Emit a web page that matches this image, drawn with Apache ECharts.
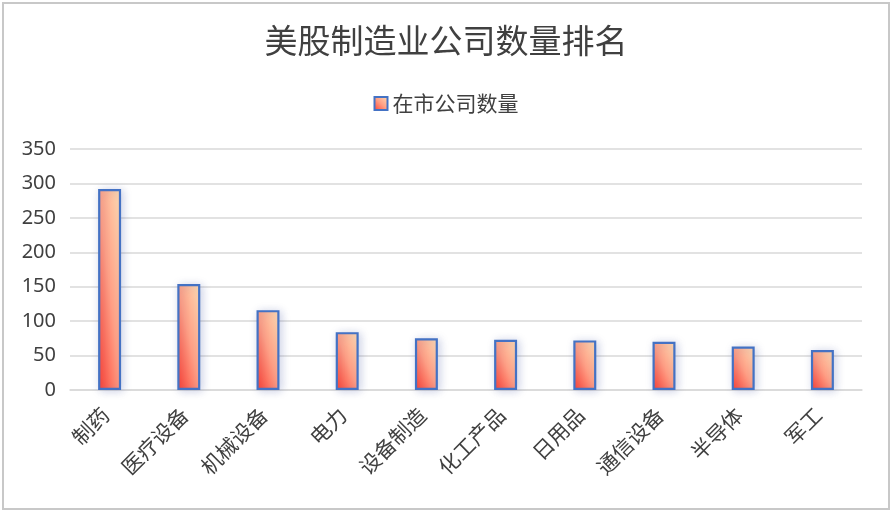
<!DOCTYPE html>
<html><head><meta charset="utf-8">
<script src="https://cdn.jsdelivr.net/npm/echarts@6/dist/echarts.min.js"></script>
<style>
html,body{margin:0;padding:0;background:#fff;}
#c{position:absolute;left:2px;top:2px;width:884px;height:504px;border:2px solid #c8c8c8;background:#fff;}
</style></head>
<body><div id="c"></div>
<script>
var categories = ['制药','医疗设备','机械设备','电力','设备制造','化工产品','日用品','通信设备','半导体','军工'];
var values = [292,154,116,84,75,73,72,70,63,58];
var seriesName = '在市公司数量';
var titleText = '美股制造业公司数量排名';

var chart = echarts.init(document.getElementById('c'));
var stops = [
  {offset:0,color:'#ff3b2e'},
  {offset:0.5,color:'#ff9f85'},
  {offset:1,color:'#ffe0b6'}
];
var baseGrad = new echarts.graphic.LinearGradient(0,1,1,0,stops);
var opt = {
  animation:false,
  title:{text:titleText,left:'center',top:15,textStyle:{fontFamily:'Noto Sans CJK SC',fontSize:33,fontWeight:'normal',color:'#404040'}},
  legend:{top:84,left:'center',itemWidth:13,itemHeight:13,itemGap:7,
    textStyle:{fontFamily:'Noto Sans CJK SC',fontSize:21,color:'#404040'},
    data:[{name:seriesName,icon:'rect'}]},
  grid:{left:66,right:26,top:145,bottom:118},
  xAxis:{type:'category',data:categories,
    axisLine:{lineStyle:{color:'#d9d9d9',width:1.5}},axisTick:{show:false},
    axisLabel:{rotate:45,interval:0,margin:17,padding:[0,6,0,0],fontFamily:'Noto Sans CJK SC',fontSize:21,color:'#404040'}},
  yAxis:{type:'value',min:0,max:350,interval:50,
    axisLine:{show:false},axisTick:{show:false},
    splitLine:{lineStyle:{color:'#d9d9d9',width:1.5}},
    axisLabel:{margin:14,fontFamily:'Noto Sans',fontSize:20,color:'#404040'}},
  series:[{name:seriesName,type:'bar',data:values,barWidth:'29%',
    itemStyle:{color:baseGrad,borderColor:'#4472c4',borderWidth:2.2,
      shadowColor:'rgba(68,84,160,0.25)',shadowBlur:8,shadowOffsetX:2,shadowOffsetY:1}}]
};
chart.setOption(opt);

// second pass: gradient whose isolines run corner-to-corner (scaled with shape)
var zeroPx = chart.convertToPixel({gridIndex:0},[0,0]);
var p1 = chart.convertToPixel({gridIndex:0},[1,0]);
var w = (p1[0]-zeroPx[0])*0.29;
var items = values.map(function(v){
  var top = chart.convertToPixel({gridIndex:0},[0,v])[1];
  var h = Math.max(1, zeroPx[1]-top);
  var d = w*w+h*h;
  var x1 = 2*h*h/d, y1 = 1-2*w*w/d;
  return {value:v,itemStyle:{color:new echarts.graphic.LinearGradient(0,1,x1,y1,stops)}};
});
chart.setOption({series:[{data:items}]});
</script></body></html>
